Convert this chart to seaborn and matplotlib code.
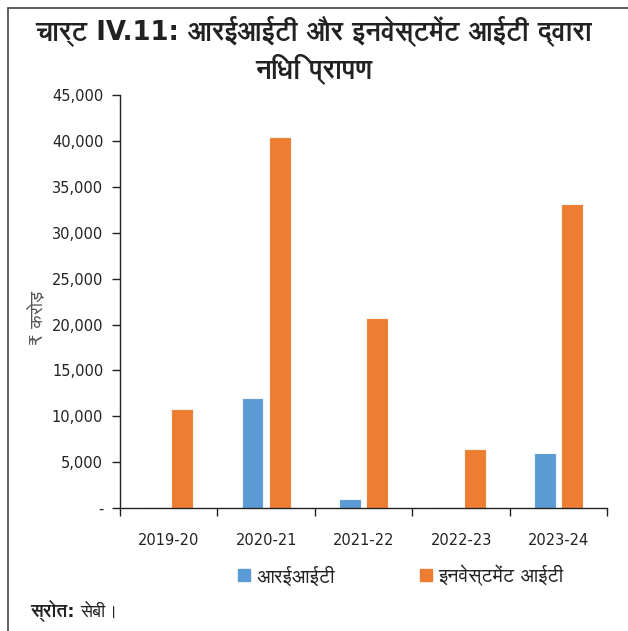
import pandas as pd
import seaborn as sns
import matplotlib.pyplot as plt
from matplotlib import font_manager
from matplotlib.ft2font import FT2Font
from matplotlib.ticker import FuncFormatter, FixedLocator
from matplotlib.lines import Line2D

years = ['2019-20', '2020-21', '2021-22', '2022-23', '2023-24']
reit = [0, 12000, 1000, 0, 6000]
invit = [10800, 40400, 20700, 6400, 33100]
series_names = ['आरईआईटी', 'इनवेस्टमेंट आईटी']
colors = ['#5B9BD5', '#ED7D31']

df = pd.DataFrame({
    'year': years * 2,
    'value': reit + invit,
    'series': [series_names[0]] * len(years) + [series_names[1]] * len(years),
})

# look for installed fonts that have Devanagari glyphs, sans first, mono last
deva = []
for f in font_manager.fontManager.ttflist:
    try:
        if 0x0905 in FT2Font(f.fname).get_charmap() and f.name not in deva:
            deva.append(f.name)
    except Exception:
        pass
deva.sort(key=lambda n: (2 if 'Mono' in n else 0 if 'Sans' in n else 1, n))

sns.set_theme(style="white")
plt.rcParams['font.family'] = ['DejaVu Sans'] + deva

fig = plt.figure(figsize=(6.28, 6.31), dpi=100)
ax = fig.add_axes([0.191, 0.195, 0.776, 0.654])

sns.barplot(data=df, x='year', y='value', hue='series', palette=colors,
            saturation=1, width=0.56, gap=0.2, edgecolor='#f4f4f4', linewidth=0.8,
            legend=False, ax=ax)

ax.set_ylim(0, 45000)
ax.set_xlim(-0.5, 4.5)
ax.set_yticks(range(0, 45001, 5000))
ax.yaxis.set_major_formatter(FuncFormatter(lambda v, p: '-' if v == 0 else f'{int(v):,}'))
ax.xaxis.set_major_locator(FixedLocator([i - 0.5 for i in range(6)]))
ax.xaxis.set_minor_locator(FixedLocator(range(5)))
ax.set_xticklabels([])
ax.set_xticklabels(years, minor=True)
ax.tick_params(axis='x', which='major', length=6, width=1, color='#222222', direction='out', bottom=True)
ax.tick_params(axis='x', which='minor', length=0, pad=18, labelsize=10.5, labelcolor='#222222')
ax.tick_params(axis='y', length=6, width=1, color='#222222', direction='out', left=True,
               labelsize=10.5, labelcolor='#222222', pad=6)

for s in ['top', 'right']:
    ax.spines[s].set_visible(False)
for s in ['left', 'bottom']:
    ax.spines[s].set_color('#222222')
    ax.spines[s].set_linewidth(1)

ax.set_xlabel('')
ax.set_ylabel('₹ करोड़', fontsize=13, color='#555555')
ax.yaxis.set_label_coords(-0.15, 0.46)

title = fig.text(0.5, 0.974, 'चार्ट IV.11: आरईआईटी और इनवेस्टमेंट आईटी द्वारा\nनिधि प्रापण',
                 ha='center', va='top', fontsize=20, fontweight='bold', color='#222222',
                 linespacing=1.25)

handles = [Line2D([0], [0], marker='s', linestyle='', markersize=8,
                  markerfacecolor=c, markeredgecolor=c) for c in colors]
fig.legend(handles, series_names, loc='center', bbox_to_anchor=(0.635, 0.088),
           ncol=2, frameon=False, fontsize=14, handletextpad=0.1, handlelength=1.0,
           columnspacing=4.2, labelcolor='#222222')

src = fig.text(0.048, 0.032, 'स्रोत:', fontsize=13, fontweight='bold', color='#222222', va='center')

# shrink the title until it fits like the reference (~560 px wide)
renderer = fig.canvas.get_renderer()
while title.get_window_extent(renderer).width > 562 and title.get_fontsize() > 8:
    title.set_fontsize(title.get_fontsize() - 0.25)

x_end = fig.transFigure.inverted().transform((src.get_window_extent(renderer).x1 + 5, 0))[0]
fig.text(x_end, 0.032, 'सेबी।', fontsize=13, color='#222222', va='center')

# outer frame lines (top and left)
fig.add_artist(Line2D([0.013, 1.0], [0.987, 0.987], color='#444444', lw=1.2))
fig.add_artist(Line2D([0.013, 0.013], [0.0, 0.987], color='#444444', lw=1.2))

fig.savefig('out.png', dpi=100)
